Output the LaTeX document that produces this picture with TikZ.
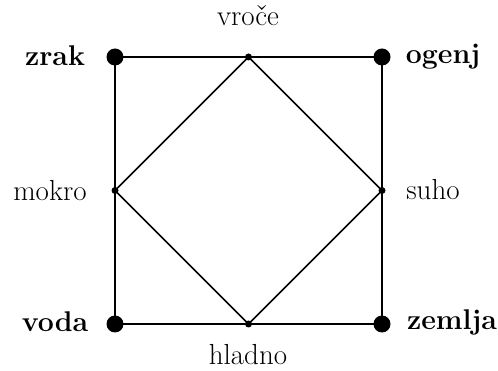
\documentclass[tikz,border=0pt]{standalone}
\begin{document}
\begin{tikzpicture}[x=1pt,y=-1pt,
  corner/.style={circle,fill=black,inner sep=0pt,minimum size=17pt},
  mid/.style={circle,fill=black,inner sep=0pt,minimum size=7pt},
  boldlab/.style={anchor=base,inner sep=0pt,font=\fontsize{28.5}{32}\selectfont\bfseries},
  normlab/.style={anchor=base,inner sep=0pt,font=\fontsize{29}{32}\selectfont},
  edge/.style={line width=2.2pt},
  diag/.style={line width=1.7pt}]
\useasboundingbox (0,0) rectangle (498,371);
\node[corner] (zr) at (115,57) {};
\node[corner] (og) at (382,57) {};
\node[corner] (vo) at (115,324) {};
\node[corner] (ze) at (382,324) {};
\node[mid] (vr) at (248.5,57) {};
\node[mid] (su) at (382,190.5) {};
\node[mid] (hl) at (248.5,324) {};
\node[mid] (mo) at (115,190.5) {};
\draw[edge] (zr.center) -- (og.center) -- (ze.center) -- (vo.center) -- cycle;
\draw[diag] (vr.center) -- (su.center) -- (hl.center) -- (mo.center) -- cycle;
\node[boldlab] (tzr) at (55,66) {zrak};
\node[boldlab] (tog) at (443,64) {ogenj};
\node[boldlab] (tvo) at (55,332) {voda};
\node[boldlab] (tze) at (452,330) {zemlja};
\node[normlab] (tvr) at (248,26) {vroče};
\node[normlab] (tmo) at (50,201) {mokro};
\node[normlab] (tsu) at (433,200) {suho};
\node[normlab] (thl) at (248,364) {hladno};
\end{tikzpicture}
\end{document}
